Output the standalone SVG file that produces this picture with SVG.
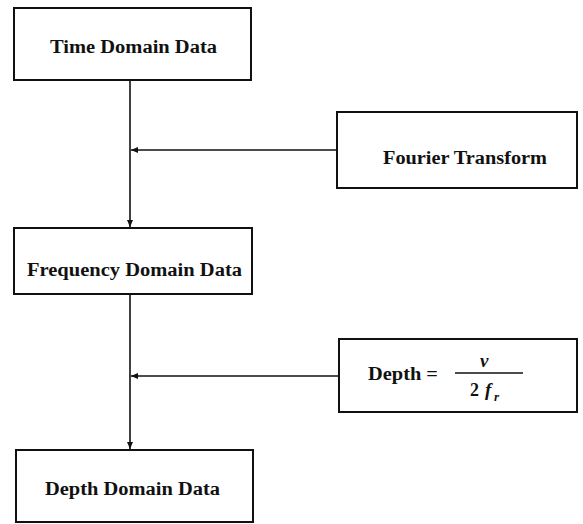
<svg xmlns="http://www.w3.org/2000/svg" width="583" height="524" viewBox="0 0 583 524">
<style>
.box{fill:#fff;stroke:#111;stroke-width:2}
.lbl{font-family:"Liberation Serif",serif;font-size:18.5px;font-weight:bold;fill:#111}
.ln{stroke:#111;stroke-width:1.6;fill:none}
.math{font-family:"Liberation Serif",serif;font-weight:bold;fill:#111}
</style>
<defs>
<marker id="ah" markerWidth="8" markerHeight="8" refX="7" refY="4" orient="auto" markerUnits="userSpaceOnUse">
<path d="M0,1 L7,4 L0,7 Z" fill="#111"/>
</marker>
</defs>
<rect width="583" height="524" fill="#fff"/>
<g id="connectors">
<line class="ln" x1="130" y1="80" x2="130" y2="227" marker-end="url(#ah)"/>
<line class="ln" x1="337" y1="150" x2="131" y2="150" marker-end="url(#ah)"/>
<line class="ln" x1="130" y1="294" x2="130" y2="449" marker-end="url(#ah)"/>
<line class="ln" x1="339" y1="376" x2="131" y2="376" marker-end="url(#ah)"/>
</g>
<g id="time">
<rect class="box" x="14" y="8" width="237" height="72"/>
<text class="lbl" x="50" y="53" textLength="167" lengthAdjust="spacingAndGlyphs">Time Domain Data</text>
</g>
<g id="fourier">
<rect class="box" x="337" y="112" width="240" height="76"/>
<text class="lbl" x="383" y="164" textLength="164" lengthAdjust="spacingAndGlyphs">Fourier Transform</text>
</g>
<g id="frequency">
<rect class="box" x="14" y="228" width="238" height="66"/>
<text class="lbl" x="27" y="276" textLength="215" lengthAdjust="spacingAndGlyphs">Frequency Domain Data</text>
</g>
<g id="depthformula">
<rect class="box" x="339" y="339" width="238" height="73"/>
<text class="lbl" x="368" y="380" textLength="70" lengthAdjust="spacingAndGlyphs">Depth =</text>
<line x1="455" y1="373" x2="523" y2="373" stroke="#111" stroke-width="1.3"/>
<text class="math" x="480" y="367" font-size="19" font-style="italic">v</text>
<text class="math" x="470" y="396" font-size="18">2</text>
<text class="math" x="485" y="396" font-size="19" font-style="italic">f</text>
<text class="math" x="494" y="401" font-size="13" font-style="italic">r</text>
</g>
<g id="depth">
<rect class="box" x="16" y="450" width="237" height="72"/>
<text class="lbl" x="45" y="495" textLength="175" lengthAdjust="spacingAndGlyphs">Depth Domain Data</text>
</g>
</svg>
